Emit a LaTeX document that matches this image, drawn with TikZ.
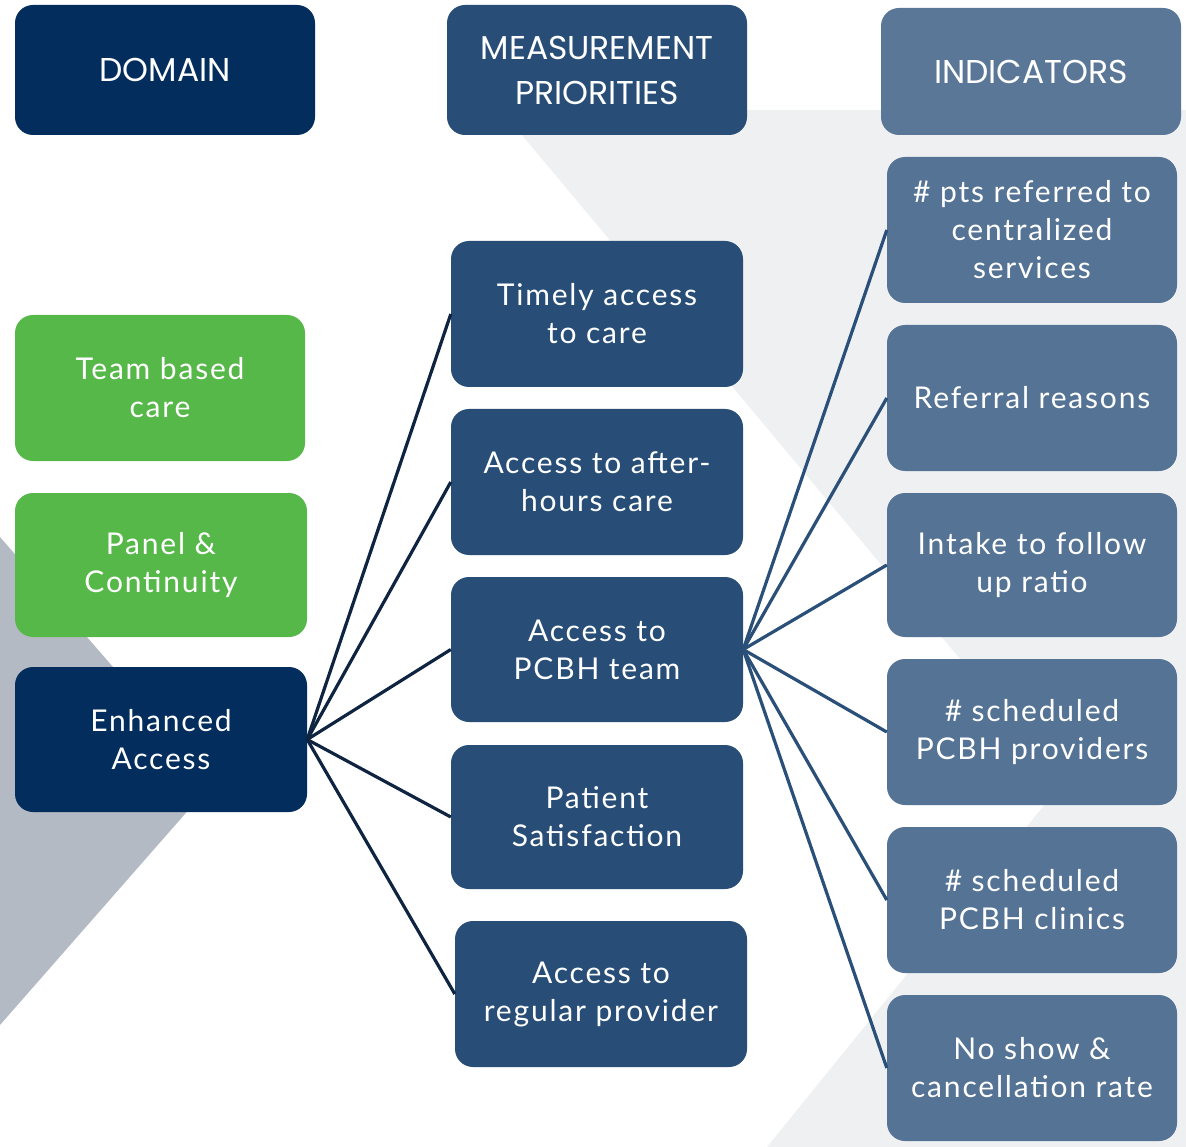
\documentclass[tikz,border=0pt]{standalone}
\usepackage{fontspec}
\setmainfont{Lato}[LetterSpace=6]
\newfontfamily\headfont{Poppins}
\definecolor{navy}{HTML}{022D5C}
\definecolor{midblue}{HTML}{284E77}
\definecolor{indblue}{HTML}{557394}
\definecolor{headblue}{HTML}{5A7798}
\definecolor{leafgreen}{HTML}{57B84A}
\definecolor{paleback}{HTML}{EFF0F2}
\definecolor{slateback}{HTML}{B4BAC4}
\definecolor{darkline}{HTML}{0E2440}
\definecolor{blueline}{HTML}{2A4F78}
\tikzset{
  card/.style={rounded corners=18pt, inner sep=0pt, text=white, align=center,
    minimum width=292pt, minimum height=146pt,
    font=\fontsize{30}{38}\selectfont},
  headcard/.style={card, minimum width=300pt, minimum height=130pt,
    font=\headfont\fontsize{33}{45}\selectfont},
  leftlink/.style={draw=darkline, line width=3.2pt},
  rightlink/.style={draw=blueline, line width=3.2pt}
}
\begin{document}
\begin{tikzpicture}[x=1pt, y=-1pt]
\useasboundingbox (0,0) rectangle (1186,1147);
\fill[white] (0,0) rectangle (1186,1147);
% background panels
\fill[paleback] (501,110) -- (1186,110) -- (1186,1147) -- (767,1147) -- (1063,782) -- cycle;
\fill[slateback] (0,537) -- (213,782) -- (0,1025) -- cycle;

% column headers
\node[headcard, fill=navy] (hdomain) at (165,70) {DOMAIN};
\node[headcard, fill=midblue] (hprio) at (597,70) {MEASUREMENT\\PRIORITIES};
\node[headcard, fill=headblue, minimum height=127pt] (hind) at (1031,71.5) {INDICATORS};

% domains
\node[card, fill=leafgreen, minimum width=290pt] (team) at (160,388) {Team based\\care};
\node[card, fill=leafgreen, minimum height=144pt] (panel) at (161,565) {Panel \&\\Continuity};
\node[card, fill=navy, minimum height=145pt] (enh) at (161,739.5) {Enhanced\\Access};

% measurement priorities
\node[card, fill=midblue] (timely) at (597,314) {Timely access\\to care};
\node[card, fill=midblue] (after) at (597,482) {Access to after-\\hours care};
\node[card, fill=midblue, minimum height=145pt] (pcbh) at (597,649.5) {Access to\\PCBH team};
\node[card, fill=midblue, minimum height=144pt] (satis) at (597,817) {Patient\\Satisfaction};
\node[card, fill=midblue] (regular) at (601,994) {Access to\\regular provider};

% indicators
\node[card, fill=indblue, minimum width=290pt] (ipts) at (1032,230) {\# pts referred to\\centralized\\services};
\node[card, fill=indblue, minimum width=290pt] (ireason) at (1032,398) {Referral reasons};
\node[card, fill=indblue, minimum width=290pt, minimum height=144pt] (iintake) at (1032,565) {Intake to follow\\up ratio};
\node[card, fill=indblue, minimum width=290pt] (iprov) at (1032,732) {\# scheduled\\PCBH providers};
\node[card, fill=indblue, minimum width=290pt] (iclin) at (1032,900) {\# scheduled\\PCBH clinics};
\node[card, fill=indblue, minimum width=290pt] (ino) at (1032,1068) {No show \&\\cancellation rate};

% domain to priorities
\foreach \t in {timely, after, pcbh, satis, regular}
  \draw[leftlink] (enh.east) -- (\t.west);
% priority to indicators
\foreach \t in {ipts, ireason, iintake, iprov, iclin, ino}
  \draw[rightlink] (pcbh.east) -- (\t.west);
\end{tikzpicture}
\end{document}
